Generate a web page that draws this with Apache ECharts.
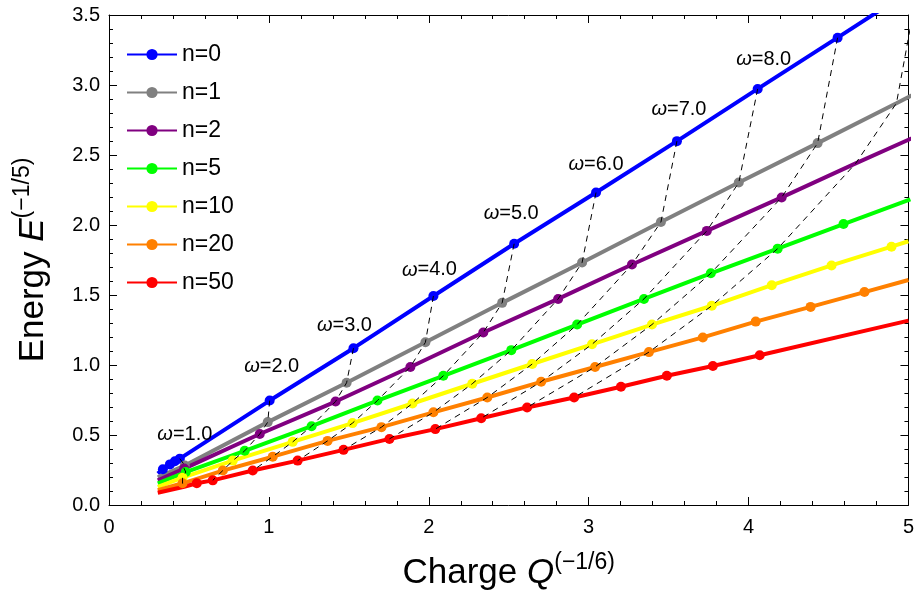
<!DOCTYPE html>
<html><head><meta charset="utf-8">
<script src="https://cdn.jsdelivr.net/npm/echarts@6/dist/echarts.min.js"></script>
<style>html,body{margin:0;padding:0;background:#fff}#c{width:917px;height:596px}</style>
</head><body><div id="c"></div>
<script>
// Series names (legend)
const seriesNames = ['n=0','n=1','n=2','n=5','n=10','n=20','n=50'];
// omega values that are labelled, and omega values joined by dashed lines
const omegaLabels = [1,2,3,4,5,6,7,8];
const omegaDashed = [1,2,3,4,5,6,7,8,9,10];
const xTicks = [0,1,2,3,4,5];
const yTicks = [0,0.5,1,1.5,2,2.5,3,3.5];

// Each series: Q^(-1/6) values, E^(-1/5) values, omega of the vertex (0 = none), marker shown (1/0)
const Q0 = [0.305,0.337,0.381,0.412,0.443,1.005,1.529,2.029,2.534,3.046,3.552,4.057,4.557,5.06];
const E0 = [0.225,0.255,0.290,0.312,0.331,0.746,1.120,1.493,1.866,2.232,2.599,2.972,3.338,3.71];
const W0 = [0,0,0,0,1,2,3,4,5,6,7,8,9,10];
const M0 = [0,1,1,1,1,1,1,1,1,1,1,1,1,0];

const Q1 = [0.305,0.474,0.993,1.486,1.979,2.459,2.959,3.452,3.939,4.432,4.925,5.42];
const E1 = [0.197,0.282,0.592,0.873,1.162,1.444,1.732,2.021,2.303,2.585,2.87,3.16];
const W1 = [0,1,2,3,4,5,6,7,8,9,10,11];
const M1 = [0,1,1,1,1,1,1,1,1,1,0,0];

const Q2 = [0.305,0.47,0.943,1.417,1.885,2.341,2.809,3.271,3.739,4.207,4.67,5.14];
const E2 = [0.176,0.26,0.507,0.739,0.986,1.232,1.472,1.718,1.958,2.197,2.44,2.68];
const W2 = [0,1,2,3,4,5,6,7,8,9,10,11];
const M2 = [0,1,1,1,1,1,1,1,1,1,0,0];

const Q3 = [0.305,0.48,0.849,1.267,1.679,2.091,2.516,2.928,3.346,3.764,4.182,4.594,5.012];
const E3 = [0.155,0.235,0.387,0.563,0.746,0.923,1.106,1.289,1.472,1.655,1.831,2.007,2.183];
const W3 = [0,1,2,3,4,5,6,7,8,9,10,11,12];
const M3 = [0,1,1,1,1,1,1,1,1,1,1,1,1];

const Q4 = [0.305,0.46,0.774,1.149,1.523,1.898,2.272,2.647,3.021,3.396,3.770,4.145,4.519,4.894,5.0];
const E4 = [0.13,0.195,0.317,0.451,0.585,0.725,0.866,1.007,1.148,1.289,1.423,1.570,1.711,1.845,1.884];
const W4 = [0,1,2,3,4,5,6,7,8,9,10,11,12,13,0];
const M4 = [0,1,1,1,1,1,1,1,1,1,1,1,1,1,0];

const Q5 = [0.305,0.46,0.712,1.024,1.367,1.704,2.029,2.366,2.703,3.040,3.377,3.714,4.045,4.388,4.725,5.0];
const E5 = [0.106,0.155,0.246,0.345,0.458,0.556,0.662,0.768,0.880,0.986,1.092,1.197,1.310,1.415,1.521,1.607];
const W5 = [0,1,2,3,4,5,6,7,8,9,10,11,12,13,14,0];
const M5 = [0,1,1,1,1,1,1,1,1,1,1,1,1,1,1,0];

const Q6 = [0.305,0.47,0.549,0.649,0.899,1.180,1.467,1.754,2.041,2.328,2.615,2.909,3.202,3.489,3.777,4.070,5.0];
const E6 = [0.088,0.13,0.155,0.176,0.246,0.317,0.394,0.472,0.542,0.620,0.697,0.768,0.845,0.923,0.993,1.070,1.317];
const W6 = [0,1,0,2,3,4,5,6,7,8,9,10,11,12,13,14,0];
const M6 = [0,0,1,1,1,1,1,1,1,1,1,1,1,1,1,1,0];

const Qs=[Q0,Q1,Q2,Q3,Q4,Q5,Q6], Es=[E0,E1,E2,E3,E4,E5,E6], Ws=[W0,W1,W2,W3,W4,W5,W6], Ms=[M0,M1,M2,M3,M4,M5,M6];
const colors = ['#0000ff','#808080','#800080','#00ff00','#ffff00','#ff8000','#ff0000'];
const FONT = '"Liberation Sans", Arial, sans-serif';
// layout nudges (pixels) for the omega labels, in omegaLabels order
const labelNudge = [[5,4],[2,-6],[-9,5],[-4,2],[-3,-2],[0,0],[2,-4],[6,-1]];

const series = [];
seriesNames.forEach((nm,i)=>{
  const data = Qs[i].map((q,j)=>{
    const item = {value:[q,Es[i][j]]};
    if(!Ms[i][j]) item.symbol='none';
    const li = omegaLabels.indexOf(Ws[i][j]);
    if(i===0 && li>=0) item.label={show:true, offset:labelNudge[li], formatter:'{i|ω}=' + Ws[i][j].toFixed(1)};
    return item;
  });
  series.push({
    name:nm, type:'line', data, symbol:'circle', symbolSize:10, showAllSymbol:true,
    lineStyle:{width:4,color:colors[i]}, itemStyle:{color:colors[i]},
    label:{show:false, position:'top', distance:13, fontSize:20, fontFamily:FONT, color:'#000',
      rich:{i:{fontStyle:'italic',fontSize:20,fontFamily:FONT,color:'#000'}}},
    z:2, clip:true, animation:false, emphasis:{disabled:true}
  });
});
omegaDashed.forEach(w=>{
  const pts=[];
  for(let i=0;i<Qs.length;i++){ const j=Ws[i].indexOf(w); if(j>=0) pts.push([Qs[i][j],Es[i][j]]); }
  series.push({type:'line', data:pts, symbol:'none', lineStyle:{color:'#000',width:1,type:[6,5]},
    z:5, silent:true, clip:true, animation:false});
});

const tickCommon = {inside:true, length:8, lineStyle:{color:'#000'}};
const minorCommon = {show:true, splitNumber:5, length:4, lineStyle:{color:'#000'}};
const titleRich = {a:{fontSize:35,fontFamily:FONT,color:'#000',lineHeight:40,verticalAlign:'bottom'},
  i:{fontSize:35,fontFamily:FONT,fontStyle:'italic',color:'#000',lineHeight:40,verticalAlign:'bottom'},
  s:{fontSize:23,fontFamily:FONT,color:'#000',lineHeight:14,verticalAlign:'top'}};
const option = {
  animation:false,
  grid:{left:109, right:7, top:15, bottom:84},
  legend:{data:seriesNames, orient:'vertical', left:121, top:38, itemWidth:50, itemHeight:14, itemGap:15,
    textStyle:{fontSize:23, fontFamily:FONT, color:'#000', lineHeight:22}, selectedMode:false},
  xAxis:[
    {type:'value', min:xTicks[0], max:xTicks[xTicks.length-1], interval:1, position:'bottom',
     axisLine:{onZero:false, lineStyle:{color:'#000'}}, axisTick:tickCommon, minorTick:minorCommon,
     splitLine:{show:false}, axisLabel:{fontSize:20, fontFamily:FONT, color:'#000', margin:12},
     name:'{a|Charge }{i|Q}{s|(−1/6)}', nameLocation:'middle', nameGap:46,
     nameTextStyle:{rich:titleRich}},
    {type:'value', min:0, max:5, interval:1, position:'top',
     axisLine:{onZero:false, lineStyle:{color:'#000'}}, axisTick:tickCommon, minorTick:minorCommon,
     splitLine:{show:false}, axisLabel:{show:false}}
  ],
  yAxis:[
    {type:'value', min:yTicks[0], max:yTicks[yTicks.length-1], interval:0.5, position:'left',
     axisLine:{onZero:false, lineStyle:{color:'#000'}}, axisTick:tickCommon, minorTick:minorCommon,
     splitLine:{show:false}, axisLabel:{fontSize:20, fontFamily:FONT, color:'#000', margin:9, formatter:v=>v.toFixed(1)},
     name:'{a|Energy }{i|E}{s|(−1/5)}', nameLocation:'middle', nameGap:58,
     nameTextStyle:{rich:titleRich}},
    {type:'value', min:0, max:3.5, interval:0.5, position:'right',
     axisLine:{onZero:false, lineStyle:{color:'#000'}}, axisTick:tickCommon, minorTick:minorCommon,
     splitLine:{show:false}, axisLabel:{show:false}}
  ],
  series
};
const chart = echarts.init(document.getElementById('c'), null, {renderer:'canvas'});
chart.setOption(option);
</script></body></html>
